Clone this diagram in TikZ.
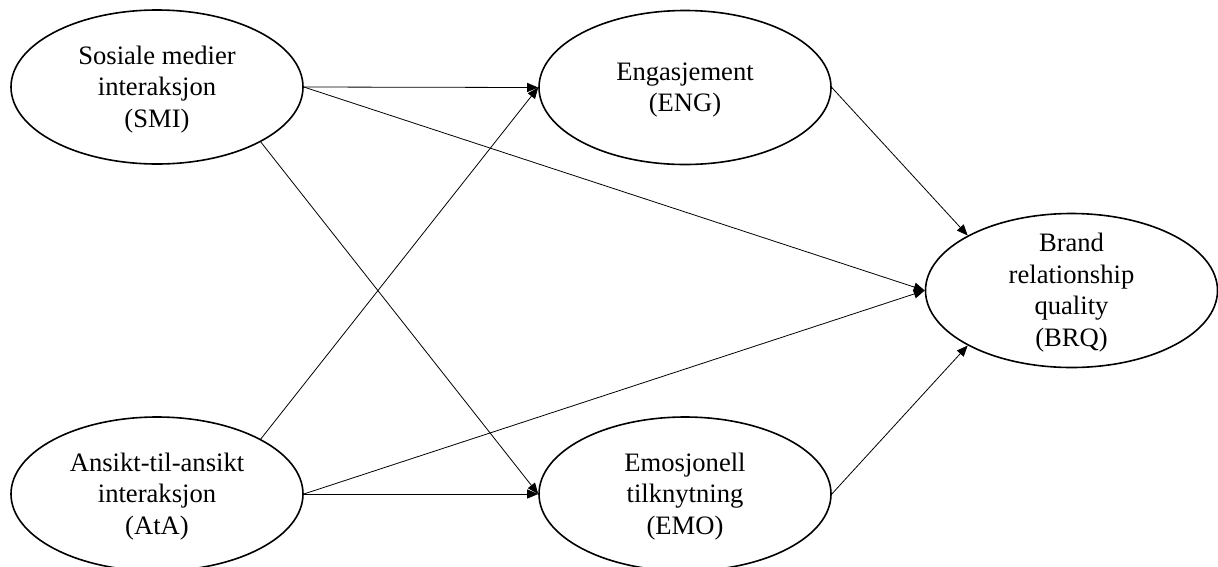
\documentclass[tikz,border=0pt]{standalone}
\usepackage{fontspec}
\setmainfont{Liberation Serif}
\usetikzlibrary{shapes.geometric,arrows.meta}
% centred multi-line caption with even line spacing
\newcommand{\ctext}[1]{{\fontsize{26.6}{31.5}\selectfont
  \begin{tabular}{@{}c@{}}#1\end{tabular}}}
\begin{document}
\begin{tikzpicture}[x=1pt,y=-1pt,
  construct/.style={ellipse, draw, line width=1.6pt,
    minimum width=292pt, minimum height=154pt, inner sep=0pt},
  caption/.style={inner sep=0pt},
  link/.style={line width=0.8pt, -{Triangle[length=11pt,width=9pt]}}]
  \useasboundingbox (0,0) rectangle (1218,566);

  % constructs
  \node[construct] (smi) at (157,87) {};
  \node[caption] (smi-t) at ([yshift=-2.3pt]smi.center) {\ctext{Sosiale medier\\interaksjon\\(SMI)}};
  \node[construct] (ata) at (157,494) {};
  \node[caption] (ata-t) at ([yshift=-2.3pt]ata.center) {\ctext{Ansikt-til-ansikt\\interaksjon\\(AtA)}};
  \node[construct] (eng) at (685,87.5) {};
  \node[caption] (eng-t) at ([yshift=-2.3pt]eng.center) {\ctext{Engasjement\\(ENG)}};
  \node[construct] (emo) at (685,494) {};
  \node[caption] (emo-t) at ([yshift=-2.3pt]emo.center) {\ctext{Emosjonell\\tilknytning\\(EMO)}};
  \node[construct] (brq) at (1071.5,290.5) {};
  \node[caption] (brq-t) at ([yshift=-2.3pt]brq.center) {\ctext{Brand\\relationship\\quality\\(BRQ)}};

  % hypothesised paths
  \draw[link] (smi.east) -- (eng.west);
  \draw[link] (smi.east) -- (brq.west);
  \draw[link] (smi.south east) -- (emo.west);
  \draw[link] (ata.north east) -- (eng.west);
  \draw[link] (ata.east) -- (emo.west);
  \draw[link] (ata.east) -- (brq.west);
  \draw[link] (eng.east) -- (brq.north west);
  \draw[link] (emo.east) -- (brq.south west);
\end{tikzpicture}
\end{document}
